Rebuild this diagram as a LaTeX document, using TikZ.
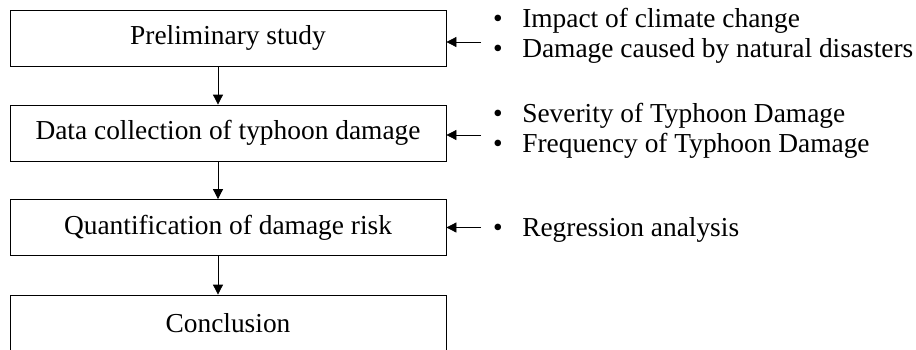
\documentclass[tikz,border=0pt]{standalone}
\usepackage{fontspec}
\setmainfont{Liberation Serif}
\usetikzlibrary{arrows.meta}

\tikzset{
  stage/.style={draw, line width=0.8pt, minimum width=436pt, minimum height=56pt,
    inner sep=0pt, font=\fontsize{27.4}{30}\selectfont},
  notes/.style={anchor=west, inner sep=0pt, font=\fontsize{27.4}{30}\selectfont},
  flow/.style={-{Triangle[length=10pt,width=10pt]}, line width=0.8pt}
}
\newcommand{\notelist}[1]{\begin{tabular}{@{}l@{\hspace{19.5pt}}l@{}}#1\end{tabular}}

\begin{document}
\begin{tikzpicture}[x=1pt,y=-1pt]
  \useasboundingbox (0,0) rectangle (916,349);

  % stages
  \node[stage] (prelim)   at (228,38)    {Preliminary study};
  \node[stage] (collect)  at (228,133)   {Data collection of typhoon damage};
  \node[stage] (quantify) at (228,227.5) {Quantification of damage risk};
  \node[stage] (concl)    at (228,323)   {Conclusion};

  % notes on the right
  \node[notes] (n1) at (493,36.5)  {\notelist{\textbullet & Impact of climate change\\
    \textbullet & Damage caused by natural disasters}};
  \node[notes] (n2) at (493,131) {\notelist{\textbullet & Severity of Typhoon Damage\\
    \textbullet & Frequency of Typhoon Damage}};
  \node[notes] (n3) at (493,230) {\notelist{\textbullet & Regression analysis}};

  % flow down
  \draw[flow] ([xshift=-10pt]prelim.south)   -- ([xshift=-10pt]collect.north);
  \draw[flow] ([xshift=-10pt]collect.south)  -- ([xshift=-10pt]quantify.north);
  \draw[flow] ([xshift=-10pt]quantify.south) -- ([xshift=-10pt]concl.north);

  % inputs
  \draw[flow] ([xshift=-12pt,yshift=-4pt]n1.west |- prelim.east) -- ([yshift=-4pt]prelim.east);
  \draw[flow] ([xshift=-12pt,yshift=-2pt]n2.west |- collect.east) -- ([yshift=-2pt]collect.east);
  \draw[flow] ([xshift=-12pt]n3.west |- quantify.east) -- (quantify.east);
\end{tikzpicture}
\end{document}
